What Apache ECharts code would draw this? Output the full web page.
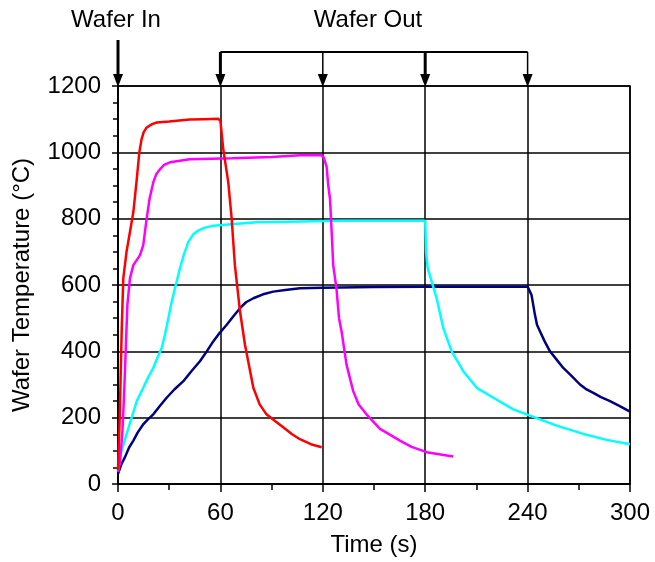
<!DOCTYPE html>
<html>
<head>
<meta charset="utf-8">
<script src="https://cdn.jsdelivr.net/npm/echarts@6/dist/echarts.min.js"></script>
<style>
  html, body { margin: 0; padding: 0; background: #fff; }
  #chart { width: 655px; height: 562px; }
</style>
</head>
<body>
<div id="chart"></div>
<script>
// time (s), temperature (C)
const red1100 = [
  [0, 42], [1, 200], [2.2, 470], [3.1, 620], [5, 700], [7, 760], [9, 820], [11, 919],
  [12.5, 1000], [13.8, 1039], [15, 1060], [16.8, 1075], [20, 1085], [22.7, 1090],
  [30, 1093], [42, 1099], [50, 1100], [58.8, 1101], [60, 1095], [60.7, 1090],
  [61.7, 1009], [64.6, 910], [66.6, 800], [68.5, 659], [71.5, 520], [74.4, 420],
  [79.3, 290], [83, 240], [87, 210], [92, 190], [96.8, 171], [102, 150],
  [106.6, 135], [113, 120], [119.3, 111]
];
const magenta1000 = [
  [0, 36], [1, 60], [2.5, 150], [3.5, 260], [4.5, 400], [5.5, 540], [7, 620],
  [9, 660], [12.9, 690], [14.8, 720], [16.8, 800], [18.5, 860], [20.7, 910],
  [22.5, 935], [24.6, 949], [27, 962], [30.5, 970], [42, 979], [67, 982],
  [90, 986], [106.6, 991], [119.3, 991], [120.5, 985], [122.2, 958], [123.2, 900],
  [124.2, 860], [125, 780], [126.1, 660], [128, 590], [129.5, 500], [131, 460],
  [133.9, 360], [137.8, 280], [141, 240], [145.6, 210], [153.5, 166],
  [165.2, 131], [172, 112], [180.8, 96], [188, 90], [196.4, 83]
];
const cyan800 = [
  [0, 40], [1, 70], [2.1, 100], [5, 150], [8, 200], [11, 250], [14.8, 290],
  [17.5, 320], [20.7, 350], [23, 380], [25.6, 410], [27.5, 450], [29.5, 500],
  [31.5, 550], [33.4, 590], [36.3, 650], [38.5, 690], [41.2, 730], [44, 752],
  [47, 764], [51, 773], [55.8, 779], [70, 785], [81.2, 789], [100, 791],
  [130, 794], [180, 794], [180.5, 700], [181.5, 650], [183.8, 610], [186.7, 560],
  [190.6, 470], [195.5, 400], [202.3, 340], [210.2, 290], [219.9, 260],
  [231.6, 225], [241.4, 206], [257, 176], [272.6, 151], [286.3, 133], [300, 120]
];
const navy600 = [
  [0, 31], [2, 60], [4.1, 81], [6.5, 110], [9, 131], [11.5, 155], [14.8, 180],
  [17.5, 195], [20.7, 210], [24.5, 235], [28.5, 260], [33, 285], [38.3, 310],
  [43, 340], [48, 370], [52, 400], [55.8, 430], [59.5, 455], [63.7, 480],
  [67.5, 505], [71.5, 530], [75, 548], [79.3, 560], [85, 572], [91, 580],
  [98, 585], [106.6, 590], [120, 592], [150, 594], [180, 595], [240, 595],
  [241, 590], [242.3, 570], [243.3, 540], [244.3, 510], [245.5, 480],
  [247.3, 460], [250, 430], [253.1, 400], [257, 375], [260.9, 350], [265, 330],
  [270.7, 300], [274, 287], [278.5, 275], [283, 262], [288.3, 250], [294, 235],
  [300, 218]
];

const waferInTimes = [0];
const waferOutTimes = [60, 120, 180, 240];

const FONT = "'Liberation Sans', Arial, sans-serif";

function lineSeries(data, color) {
  return {
    type: "line",
    data: data,
    showSymbol: false,
    symbol: "none",
    lineStyle: { color: color, width: 2.5 },
    animation: false,
    z: 3,
  };
}

const chart = echarts.init(document.getElementById("chart"), null, { renderer: "canvas" });

chart.setOption({
  animation: false,
  backgroundColor: "#fff",
  grid: {
    left: 118,
    right: 25,
    top: 86,
    bottom: 75,
    show: true,
    borderColor: "#000",
    borderWidth: 1.5,
  },
  xAxis: {
    type: "value",
    min: 0,
    max: 300,
    interval: 60,
    name: "Time (s)",
    nameLocation: "middle",
    nameGap: 49,
    nameTextStyle: { fontFamily: FONT, fontSize: 24, color: "#000" },
    axisLine: { show: true, onZero: false, lineStyle: { color: "#000", width: 1.5 } },
    axisTick: { show: true, inside: false, length: 8, lineStyle: { color: "#000", width: 1.5 } },
    minorTick: { show: true, splitNumber: 2, length: 6, lineStyle: { color: "#000", width: 1.5 } },
    splitLine: { show: true, lineStyle: { color: "#000", width: 1.5 } },
    axisLabel: { fontFamily: FONT, fontSize: 24, color: "#000", margin: 17, formatter: (v) => String(v) },
  },
  yAxis: {
    type: "value",
    min: 0,
    max: 1200,
    interval: 200,
    name: "Wafer Temperature (°C)",
    nameLocation: "middle",
    nameGap: 84,
    nameTextStyle: { fontFamily: FONT, fontSize: 24, color: "#000" },
    axisLine: { show: true, onZero: false, lineStyle: { color: "#000", width: 1.5 } },
    axisTick: { show: true, inside: false, length: 6, lineStyle: { color: "#000", width: 1.5 } },
    minorTick: { show: true, splitNumber: 4, length: 5, lineStyle: { color: "#000", width: 1.5 } },
    splitLine: { show: true, lineStyle: { color: "#000", width: 1.5 } },
    axisLabel: { fontFamily: FONT, fontSize: 24, color: "#000", margin: 17, formatter: (v) => String(v) },
  },
  series: [
    lineSeries(navy600, "#000080"),
    lineSeries(cyan800, "#00FFFF"),
    lineSeries(magenta1000, "#FF00FF"),
    lineSeries(red1100, "#FF0000"),
  ],
});

// arrows and labels above the plot
function drawAnnotations() {
  const px = (t) => chart.convertToPixel({ gridIndex: 0 }, [t, 1200]);
  const els = [];
  const arrowHead = (x, y) => ({
    type: "polygon",
    shape: { points: [[x - 5, y - 12], [x + 5, y - 12], [x, y + 1]] },
    style: { fill: "#000" },
    z: 10,
  });

  waferInTimes.forEach((t) => {
    const p = px(t);
    els.push({
      type: "line",
      shape: { x1: p[0], y1: 40, x2: p[0], y2: p[1] - 10 },
      style: { stroke: "#000", lineWidth: 3 },
      z: 10,
    });
    els.push(arrowHead(p[0], p[1]));
    els.push({
      type: "text",
      style: {
        x: p[0] - 2, y: 20, text: "Wafer In", align: "center", verticalAlign: "middle",
        font: "24px " + FONT, fill: "#000",
      },
      z: 10,
    });
  });

  const first = px(waferOutTimes[0]);
  const last = px(waferOutTimes[waferOutTimes.length - 1]);
  els.push({
    type: "line",
    shape: { x1: first[0], y1: 52, x2: last[0], y2: 52 },
    style: { stroke: "#000", lineWidth: 2 },
    z: 10,
  });
  waferOutTimes.forEach((t, i) => {
    const p = px(t);
    els.push({
      type: "line",
      shape: { x1: p[0], y1: 52, x2: p[0], y2: p[1] - 10 },
      style: { stroke: "#000", lineWidth: i % 2 === 0 ? 3 : 1.5 },
      z: 10,
    });
    els.push(arrowHead(p[0], p[1]));
  });
  els.push({
    type: "text",
    style: {
      x: (first[0] + last[0]) / 2 - 6, y: 20, text: "Wafer Out", align: "center",
      verticalAlign: "middle", font: "24px " + FONT, fill: "#000",
    },
    z: 10,
  });

  chart.setOption({ graphic: els });
}
drawAnnotations();
</script>
</body>
</html>
